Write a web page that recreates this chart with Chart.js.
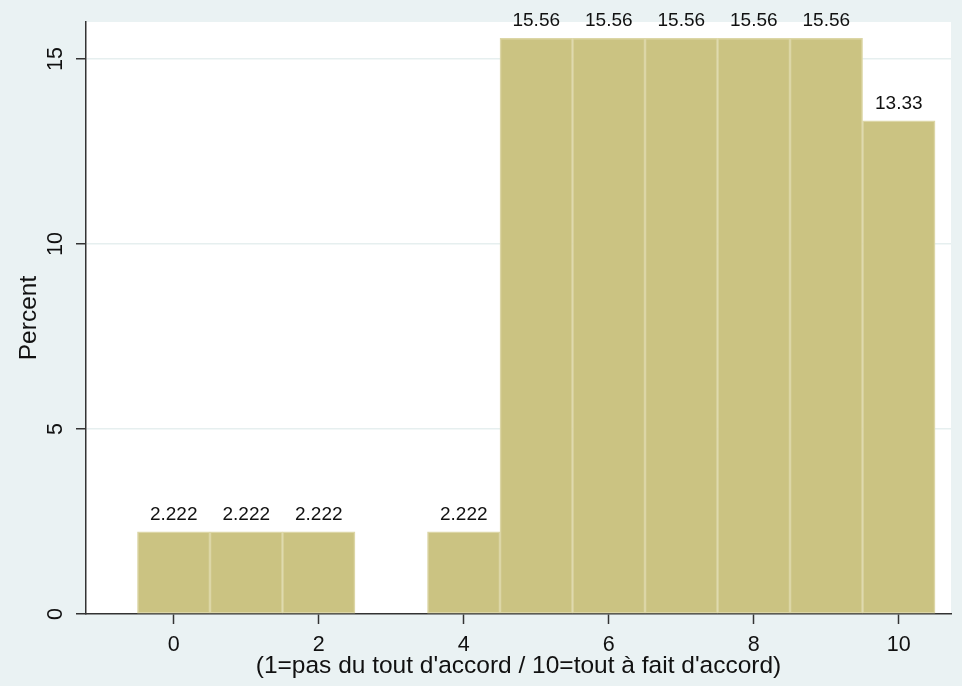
<!DOCTYPE html>
<html>
<head>
<meta charset="utf-8">
<script src="https://cdn.jsdelivr.net/npm/chart.js@4.4.1/dist/chart.umd.min.js"></script>
<style>
  html, body { margin: 0; padding: 0; background: #eaf2f3; }
  canvas { display: block; }
</style>
</head>
<body>
<canvas id="chart_hist" width="962" height="686"></canvas>
<script>
// valeurs du graphique (histogramme, en pourcentage)
const notes = [0, 1, 2, 3, 4, 5, 6, 7, 8, 9, 10];
const pourcent = [2.222, 2.222, 2.222, 0, 2.222, 15.56, 15.56, 15.56, 15.56, 15.56, 13.33];
const etiquettes = ["2.222", "2.222", "2.222", "", "2.222", "15.56", "15.56", "15.56", "15.56", "15.56", "13.33"];
const xTicks = [0, 2, 4, 6, 8, 10];
const yTicks = [0, 5, 10, 15];

const police = '"Liberation Sans", Arial, sans-serif';

const fondPlugin = {
    id: 'fond',
    beforeDraw(chart) {
        const ctx = chart.ctx;
        const a = chart.chartArea;
        ctx.save();
        ctx.fillStyle = '#eaf2f3';
        ctx.fillRect(0, 0, chart.width, chart.height);
        ctx.fillStyle = '#ffffff';
        ctx.fillRect(a.left, a.top, a.right - a.left, a.bottom - a.top);
        ctx.restore();
    }
};

// valeurs au-dessus de chaque barre
const valeursPlugin = {
    id: 'valeurs',
    afterDatasetsDraw(chart) {
        const ctx = chart.ctx;
        const meta = chart.getDatasetMeta(0);
        ctx.save();
        ctx.fillStyle = '#111111';
        ctx.font = '19px ' + police;
        ctx.textAlign = 'center';
        ctx.textBaseline = 'alphabetic';
        meta.data.forEach(function(bar, i) {
            if (!etiquettes[i]) return;
            ctx.fillText(etiquettes[i], bar.x, bar.y - 12);
        });
        ctx.restore();
    }
};

const ctx_hist = document.getElementById('chart_hist');

const chart_hist = new Chart(ctx_hist, {
    type: 'bar',
    data: {
        datasets: [{
            label: 'Percent',
            data: notes.map((n, i) => ({ x: n, y: pourcent[i] || null })),
            backgroundColor: '#cbc382',
            borderColor: '#dcd6a6',
            borderWidth: 1.5,
            borderSkipped: false,
            barPercentage: 1,
            categoryPercentage: 1
        }]
    },
    options: {
        responsive: false,
        animation: false,
        layout: {
            padding: { top: 22, right: 11, left: 0, bottom: 0 }
        },
        plugins: {
            legend: { display: false },
            tooltip: { enabled: false }
        },
        scales: {
            x: {
                type: 'linear',
                min: -1.21,
                max: 10.72,
                offset: false,
                afterBuildTicks: function(scale) {
                    scale.ticks = xTicks.map(v => ({ value: v }));
                },
                afterFit: function(scale) { scale.height = 72; },
                grid: {
                    offset: false,
                    drawOnChartArea: false,
                    drawTicks: true,
                    tickLength: 10,
                    tickColor: '#333333',
                    tickWidth: 1.5
                },
                border: { color: '#333333', width: 1.5 },
                ticks: {
                    color: '#111111',
                    padding: 8,
                    maxRotation: 0,
                    font: { family: police, size: 21.5 }
                },
                title: {
                    display: true,
                    text: "(1=pas du tout d'accord / 10=tout à fait d'accord)",
                    color: '#111111',
                    padding: 5,
                    font: { family: police, size: 24.5 }
                }
            },
            y: {
                min: 0,
                max: 16,
                afterBuildTicks: function(scale) {
                    scale.ticks = yTicks.map(v => ({ value: v }));
                },
                afterFit: function(scale) { scale.width = 86; },
                grid: {
                    color: function(c) { return c.tick && c.tick.value === 0 ? 'rgba(0,0,0,0)' : '#e6efef'; },
                    lineWidth: 1.5,
                    drawTicks: true,
                    tickLength: 10,
                    tickColor: '#333333',
                    tickWidth: 1.5
                },
                border: { color: '#333333', width: 1.5 },
                ticks: {
                    color: '#111111',
                    minRotation: 90,
                    maxRotation: 90,
                    crossAlign: 'center',
                    padding: 8,
                    font: { family: police, size: 21.5 }
                },
                title: {
                    display: true,
                    text: 'Percent',
                    color: '#111111',
                    padding: 15,
                    font: { family: police, size: 24.5 }
                }
            }
        }
    },
    plugins: [fondPlugin, valeursPlugin]
});
</script>
</body>
</html>
